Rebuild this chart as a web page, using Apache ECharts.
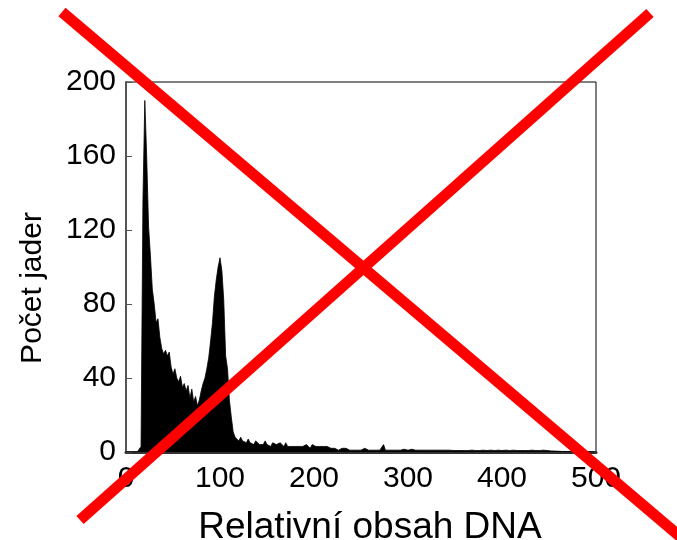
<!DOCTYPE html>
<html>
<head>
<meta charset="utf-8">
<script src="https://cdn.jsdelivr.net/npm/echarts@6/dist/echarts.min.js"></script>
<style>
  html, body { margin: 0; padding: 0; background: #fff; }
  #main { width: 677px; height: 540px; }
</style>
</head>
<body>
<div id="main"></div>
<script>
// histogram bins: width 2, starting at 0
var binStart = 0
var binWidth = 2
// pocet jader v kazdem binu
var counts = [
  0, 0, 0, 0, 0, 0, 0, 0, 3, 135,
  190, 160, 122, 106, 88, 80, 70, 72, 62, 56,
  53, 55, 52, 54, 46, 42, 45, 40, 38, 41,
  35, 37, 33, 36, 29, 34, 27, 30, 25, 28,
  33, 37, 40, 45, 51, 60, 70, 84, 93, 100,
  105, 98, 82, 52, 45, 28, 19, 11, 8, 9,
  6, 8, 6, 7, 5, 7, 5, 6, 4, 6,
  5, 4, 5, 4, 6, 4, 5, 3, 5, 4,
  4, 3, 5, 4, 3, 5, 3, 4, 3, 4,
  3, 4, 3, 4, 3, 3, 4, 3, 2, 4,
  3, 3, 2, 3, 2, 3, 2, 3, 2, 2,
  3, 2, 2, 1, 2, 2, 1, 2, 2, 1,
  2, 1, 2, 1, 2, 1, 1, 2, 1, 1,
  2, 1, 1, 1, 2, 1, 1, 4, 1, 1,
  1, 1.5, 1, 1, 1, 1.5, 1, 1, 1.5, 1,
  1, 1, 1.5, 1, 1, 1, 1, 1.5, 1, 1,
  1, 1, 1, 1.5, 1, 1, 1, 1, 1, 1.5,
  1, 1, 1, 1, 0.8, 1, 0.8, 1, 0.8, 1,
  0.8, 1, 0.8, 0.8, 1, 0.8, 0.8, 1, 0.8, 0.8,
  1, 0.8, 0.8, 0.8, 1, 0.8, 0.8, 0.8, 1, 0.8,
  0.8, 0.8, 1, 0.8, 0.8, 0.8, 1, 0.8, 0.8, 0.8,
  0.8, 1, 0.8, 0.8, 0.8, 0.8, 1, 0.8, 0.8, 0.8,
  0.8, 0.8, 1, 0.8, 0.8, 0.8, 0.6, 0.6, 0.5, 0.5,
  0.4, 0.4, 0.3, 0.3, 0.3, 0.2, 0.2, 0.2, 0.2, 0.1,
  0.1, 0.1, 0, 0, 0, 0, 0, 0, 0, 0
]
var xTicks = [0, 100, 200, 300, 400, 500]
var yTicks = [0, 40, 80, 120, 160, 200]
var xName = 'Relativní obsah DNA'
var yName = 'Počet jader'

var histData = counts.map(function (c, i) {
  return [binStart + i * binWidth, c]
})

var chart = echarts.init(document.getElementById('main'))
var font = '"Liberation Sans", Arial, sans-serif'

var option = {
  animation: false,
  backgroundColor: '#fff',
  grid: {
    left: 126,
    right: 81,
    top: 82,
    bottom: 88,
    containLabel: false,
    outerBoundsMode: 'none',
    show: true,
    borderColor: '#000',
    borderWidth: 1,
    backgroundColor: 'transparent'
  },
  xAxis: {
    type: 'value',
    min: xTicks[0],
    max: xTicks[xTicks.length - 1],
    interval: xTicks[1] - xTicks[0],
    name: xName,
    nameLocation: 'middle',
    nameGap: 57,
    nameTextStyle: { color: '#000', fontSize: 37, fontFamily: font, padding: [0, 0, 0, 18] },
    axisLine: { show: true, onZero: false, lineStyle: { color: '#333', width: 3 } },
    axisTick: { show: false },
    splitLine: { show: false },
    axisLabel: { color: '#000', fontSize: 30, fontFamily: font, margin: 12 }
  },
  yAxis: {
    type: 'value',
    min: yTicks[0],
    max: yTicks[yTicks.length - 1],
    interval: yTicks[1] - yTicks[0],
    name: yName,
    nameLocation: 'middle',
    nameGap: 78,
    nameTextStyle: { color: '#000', fontSize: 30, fontFamily: font, padding: [0, 42, 0, 0] },
    axisLine: { show: true, lineStyle: { color: '#555', width: 2 } },
    axisTick: { show: true, inside: true, length: 6, lineStyle: { color: '#555', width: 1 } },
    splitLine: { show: false },
    axisLabel: { color: '#000', fontSize: 30, fontFamily: font, margin: 10 }
  },
  series: [
    {
      type: 'line',
      data: histData,
      symbol: 'none',
      lineStyle: { color: '#000', width: 0.8 },
      areaStyle: { color: '#000', opacity: 1 },
      z: 2
    }
  ],
  // cervene preskrtnuti pres cely graf
  graphic: [
    {
      type: 'line',
      z: 100,
      shape: { x1: 62, y1: 12, x2: 690, y2: 545 },
      style: { stroke: '#ff0000', lineWidth: 11 }
    },
    {
      type: 'line',
      z: 100,
      shape: { x1: 80, y1: 520, x2: 650, y2: 13 },
      style: { stroke: '#ff0000', lineWidth: 11 }
    }
  ]
}
chart.setOption(option)
</script>
</body>
</html>
